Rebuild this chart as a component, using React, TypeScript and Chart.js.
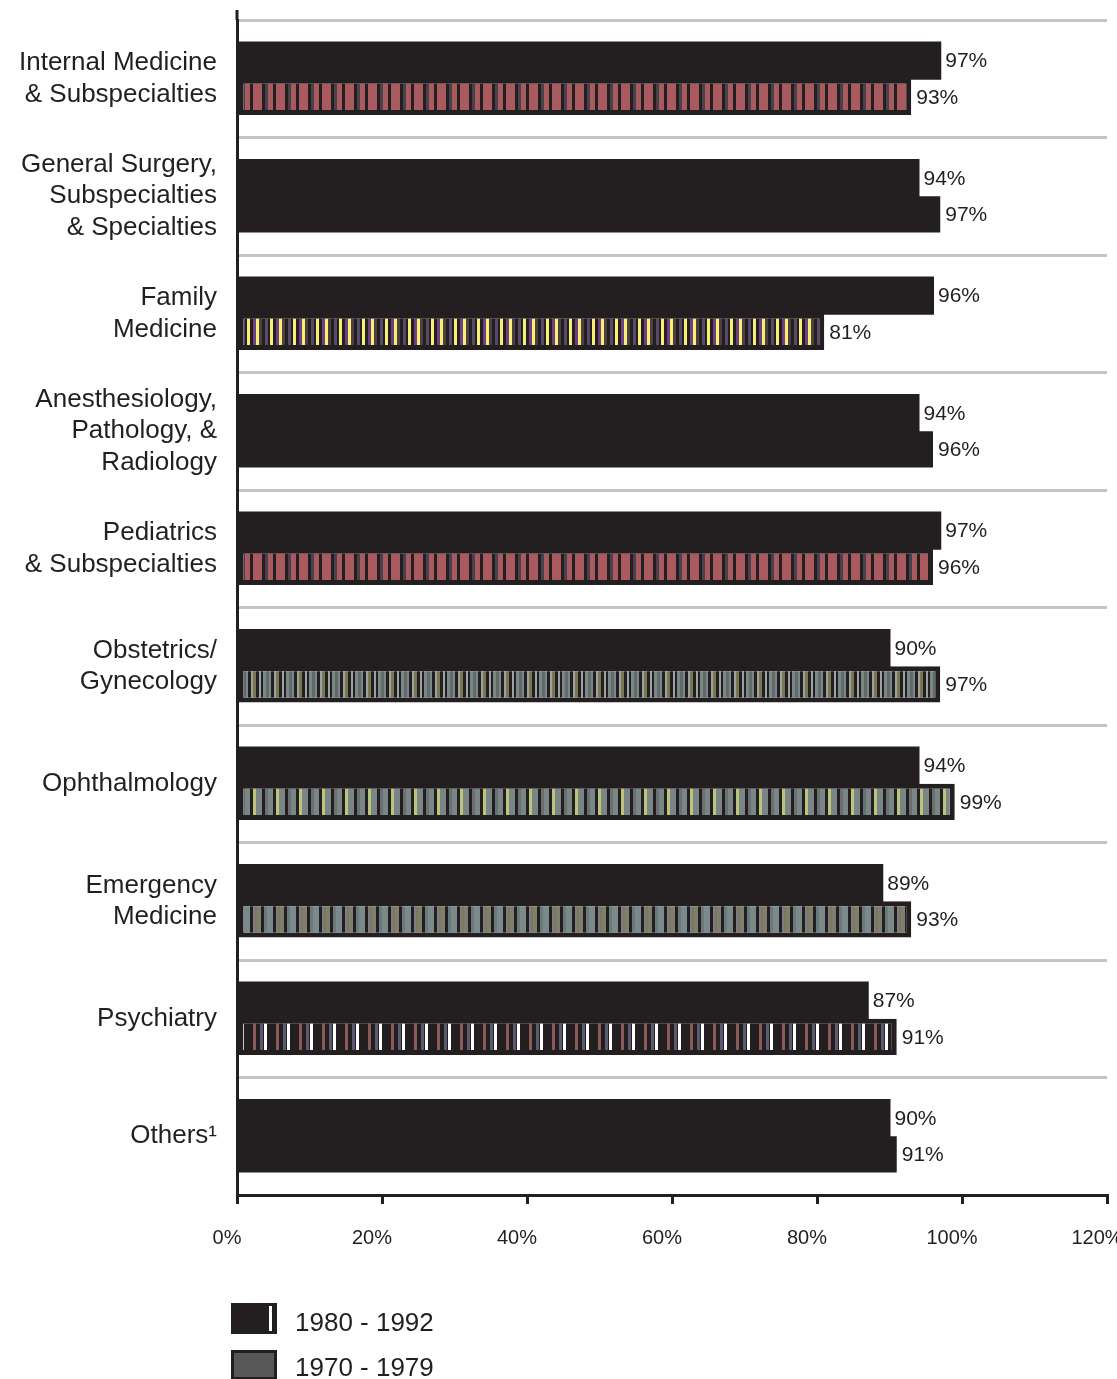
import React, { useEffect, useRef } from "react";
import { Chart, registerables } from "chart.js";

Chart.register(...registerables);

const categories: string[][] = [
  ["Internal Medicine", "& Subspecialties"],
  ["General Surgery,", "Subspecialties", "& Specialties"],
  ["Family", "Medicine"],
  ["Anesthesiology,", "Pathology, &", "Radiology"],
  ["Pediatrics", "& Subspecialties"],
  ["Obstetrics/", "Gynecology"],
  ["Ophthalmology"],
  ["Emergency", "Medicine"],
  ["Psychiatry"],
  ["Others\u00b9"],
];

const series1980: number[] = [97, 94, 96, 94, 97, 90, 94, 89, 87, 90];
const series1970: number[] = [93, 97, 81, 96, 96, 97, 99, 93, 91, 91];

const xTicks: number[] = [0, 20, 40, 60, 80, 100, 120];

const BLACK = "#231f20";

// stripe pattern definitions per category for 1970-1979 (null = solid black)
type Seg = [string, number];
const stripeRed: Seg[] = [["#a85a5e", 9], [BLACK, 3], ["#48404a", 3], ["#a85a5e", 5], [BLACK, 3]];
const stripePurple: Seg[] = [["#6e3f80", 3], ["#f7ee72", 3], ["#4d4040", 3], [BLACK, 3], ["#574a68", 3], [BLACK, 2], ["#f7ee72", 3], [BLACK, 3]];
const stripeOlive: Seg[] = [["#7b7753", 3], [BLACK, 3], ["#9aa2a2", 2], [BLACK, 2], ["#7b8787", 3], ["#606a6a", 3], ["#7b8787", 2], [BLACK, 3], ["#9aa2a2", 2]];
const stripeGreen: Seg[] = [["#bcc47a", 3], ["#7a8585", 6], [BLACK, 3], ["#687070", 3], ["#7a8585", 5], [BLACK, 3]];
const stripeMauve: Seg[] = [["#7f7a88", 2], ["#7a7a58", 2], ["#7f7f70", 4], [BLACK, 3], ["#6a7a7a", 3], ["#7a8a8a", 6], [BLACK, 3]];
const stripePsych: Seg[] = [["#8a5a5a", 3], [BLACK, 4], ["#5a5a70", 3], [BLACK, 1], ["#ffffff", 3], [BLACK, 9]];

const patterns1970: (Seg[] | null)[] = [
  stripeRed,
  null,
  stripePurple,
  null,
  stripeRed,
  stripeOlive,
  stripeGreen,
  stripeMauve,
  stripePsych,
  null,
];

function makePattern(segs: Seg[]): CanvasPattern | string {
  const w = segs.reduce((a, s) => a + s[1], 0);
  const c = document.createElement("canvas");
  c.width = w;
  c.height = 4;
  const ctx = c.getContext("2d");
  if (!ctx) return BLACK;
  let x = 0;
  for (const [col, sw] of segs) {
    ctx.fillStyle = col;
    ctx.fillRect(x, 0, sw, 4);
    x += sw;
  }
  const p = ctx.createPattern(c, "repeat");
  return p || BLACK;
}

const FONT = "'Liberation Sans', Arial, sans-serif";

const valueLabels = {
  id: "valueLabels",
  afterDatasetsDraw(chart: any) {
    const ctx = chart.ctx;
    ctx.save();
    ctx.font = `21px ${FONT}`;
    ctx.fillStyle = BLACK;
    ctx.textAlign = "left";
    ctx.textBaseline = "middle";
    chart.data.datasets.forEach((ds: any, di: number) => {
      const meta = chart.getDatasetMeta(di);
      meta.data.forEach((bar: any, i: number) => {
        const v = ds.data[i];
        ctx.fillText(`${v}%`, bar.x + 5, bar.y + 1);
      });
    });
    ctx.restore();
  },
};

const axisExtension = {
  id: "axisExtension",
  afterDraw(chart: any) {
    const ctx = chart.ctx;
    const a = chart.chartArea;
    ctx.save();
    ctx.strokeStyle = BLACK;
    ctx.lineWidth = 3;
    ctx.beginPath();
    ctx.moveTo(a.left, 10);
    ctx.lineTo(a.left, a.top);
    ctx.stroke();
    ctx.restore();
  },
};

export default function App() {
  const ref = useRef<HTMLCanvasElement | null>(null);

  useEffect(() => {
    if (!ref.current) return;
    const bg2 = patterns1970.map((p) => (p ? makePattern(p) : BLACK));
    const bw2 = patterns1970.map((p) => (p ? 5 : 0));
    const chart = new Chart(ref.current, {
      type: "bar",
      data: {
        labels: categories,
        datasets: [
          {
            label: "1980 - 1992",
            data: series1980,
            backgroundColor: BLACK,
            borderWidth: 0,
            inflateAmount: 1,
            categoryPercentage: 0.615,
            barPercentage: 1,
          },
          {
            label: "1970 - 1979",
            data: series1970,
            backgroundColor: bg2 as any,
            borderColor: BLACK,
            borderWidth: bw2,
            borderSkipped: false,
            categoryPercentage: 0.615,
            barPercentage: 1,
          },
        ],
      },
      options: {
        indexAxis: "y",
        animation: false,
        responsive: false,
        maintainAspectRatio: false,
        layout: { padding: { top: 20, right: 10, left: 0, bottom: 114 } },
        plugins: { legend: { display: false }, tooltip: { enabled: false } },
        scales: {
          x: {
            min: 0,
            max: 120,
            afterBuildTicks: (scale: any) => {
              scale.ticks = xTicks.map((v) => ({ value: v }));
            },
            afterFit: (scale: any) => {
              scale.height = 70;
              scale.paddingLeft = 0;
              scale.paddingRight = 0;
            },
            ticks: {
              callback: (v: any) => `${v}%`,
              font: { family: FONT, size: 20 },
              color: BLACK,
              padding: 22,
              labelOffset: -10,
              maxRotation: 0,
              autoSkip: false,
            },
            grid: {
              drawOnChartArea: false,
              drawTicks: true,
              tickLength: 9,
              color: BLACK,
              lineWidth: 3,
            },
            border: { color: BLACK, width: 3 },
          },
          y: {
            afterFit: (scale: any) => {
              scale.width = 237;
              scale.paddingTop = 0;
              scale.paddingBottom = 0;
            },
            ticks: {
              font: { family: FONT, size: 26, lineHeight: 1.22 },
              color: BLACK,
              padding: 20,
              crossAlign: "near",
              autoSkip: false,
            },
            grid: {
              offset: true,
              drawTicks: false,
              color: "#c4c4c4",
              lineWidth: 3,
            },
            border: { color: BLACK, width: 3 },
          },
        },
      },
      plugins: [valueLabels, axisExtension],
    });
    return () => chart.destroy();
  }, []);

  const legendText: React.CSSProperties = {
    fontFamily: FONT,
    fontSize: 26,
    color: BLACK,
    position: "absolute",
    left: 295,
    lineHeight: "30px",
  };

  return (
    <div style={{ position: "absolute", left: 0, top: 0, width: 1117, height: 1379, background: "#fff" }}>
      <canvas ref={ref} width={1117} height={1379} style={{ display: "block" }} />
      <div
        style={{
          position: "absolute",
          left: 231,
          top: 1303,
          width: 46,
          height: 31,
          background: BLACK,
          boxSizing: "border-box",
        }}
      >
        <div style={{ position: "absolute", left: 38, top: 3, width: 3, height: 25, background: "#fff" }} />
      </div>
      <div style={{ ...legendText, top: 1307 }}>1980 - 1992</div>
      <div
        style={{
          position: "absolute",
          left: 231,
          top: 1350,
          width: 46,
          height: 30,
          background: "#575757",
          border: `3px solid ${BLACK}`,
          boxSizing: "border-box",
        }}
      />
      <div style={{ ...legendText, top: 1352 }}>1970 - 1979</div>
    </div>
  );
}
